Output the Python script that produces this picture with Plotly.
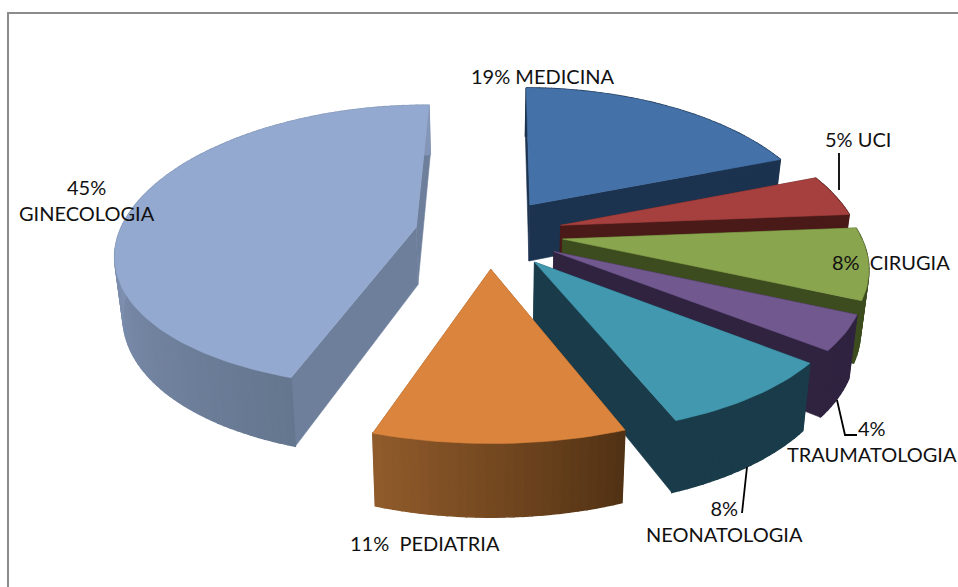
import math
import plotly.graph_objects as go

categories = ["MEDICINA", "UCI", "CIRUGIA", "TRAUMATOLOGIA", "NEONATOLOGIA", "PEDIATRIA", "GINECOLOGIA"]
values = [19, 4.6, 8, 4, 8.4, 11, 45]
top_colors = ["#4472A8", "#A5403E", "#89A54E", "#71588F", "#4198AF", "#DB843D", "#93A9CF"]
wall_end = ["#1C3350", "#4A1A18", "#3C4C1E", "#2F2340", "#1A3C4A", "#925C2C", "#8496B8"]
wall_start = ["#1C3350", "#4A1A18", "#3C4C1E", "#2F2340", "#1A3C4A", "#523214", "#65768F"]
wall_mid = ["#1C3350", "#4A1A18", "#3C4C1E", "#2F2340", "#1A3C4A", "#744820", "#8496B8"]
cut_colors = ["#1C3350", "#4A1A18", "#3C4C1E", "#2F2340", "#1A3C4A", "#8A5226", "#6E7F9C"]

CX, CY, R, RY, PX, PY, EXPL, DEPTH, CONV = 489, 233, 297, 140, 0.17, 0.135, 0.25, 58, 0.022
ROT = math.radians(0.5)
W, H = 958, 587


def project(x, y, z=0.0):
    sx = 1 / (1 - PX * y)
    sy = 1 / (1 - PY * y)
    return CX + R * x * sx * (1 - CONV * z), CY + RY * y * sy + DEPTH * z * sx


def lerp(c1, c2, t):
    a = [int(c1[i:i + 2], 16) for i in (1, 3, 5)]
    b = [int(c2[i:i + 2], 16) for i in (1, 3, 5)]
    return "rgb(%d,%d,%d)" % tuple(round(p + (q - p) * t) for p, q in zip(a, b))


fig = go.Figure()


def poly(pts, color, width=0.6):
    xs = [p[0] for p in pts] + [pts[0][0]]
    ys = [p[1] for p in pts] + [pts[0][1]]
    fig.add_trace(go.Scatter(x=xs, y=ys, mode="lines", fill="toself", fillcolor=color,
                             line=dict(color=color, width=width), hoverinfo="skip", showlegend=False))


def slice_geometry(a0, a1):
    mid = (a0 + a1) / 2
    ox, oy = EXPL * math.sin(mid), -EXPL * math.cos(mid)
    n = max(6, int((a1 - a0) * 40))
    arc = []
    for i in range(n + 1):
        t = a0 + (a1 - a0) * i / n
        arc.append((ox + math.sin(t), oy - math.cos(t)))
    return (ox, oy), arc


total = sum(values)
slices = []
cum = 0
for i, v in enumerate(values):
    a0 = cum / total * 2 * math.pi + ROT
    cum += v
    a1 = cum / total * 2 * math.pi + ROT
    slices.append((i, a0, a1))

for i, a0, a1 in slices:
    apex, arc = slice_geometry(a0, a1)
    for end in (arc[0], arc[-1]):
        poly([project(*apex), project(*end), project(*end, 1), project(*apex, 1)], cut_colors[i])
    m = len(arc) - 1
    for k in range(m):
        p, q = arc[k], arc[k + 1]
        t = k / m
        col = lerp(wall_start[i], wall_mid[i], 2 * t) if t < 0.5 else lerp(wall_mid[i], wall_end[i], 2 * t - 1)
        poly([project(*p), project(*q), project(*q, 1), project(*p, 1)], col, width=1.5)
    poly([project(*apex)] + [project(*p) for p in arc], top_colors[i])

label_texts = ["19% MEDICINA", "5% UCI", "8%  CIRUGIA", "4%<br>TRAUMATOLOGIA", "8%<br>NEONATOLOGIA", "11%  PEDIATRIA", "45%<br>GINECOLOGIA"]
label_x = [543, 858, 891, 872, 724, 425, 87]
label_y = [76, 139, 262, 441, 521, 543, 200]
for t, x, y in zip(label_texts, label_x, label_y):
    fig.add_annotation(x=x, y=y, text=t, showarrow=False, font=dict(family="Lato", size=20, color="#111111"), align="center")

for xs, ys in [([839, 839], [153, 190]), ([837, 845, 857], [400, 435, 435]), ([747, 742], [467, 513])]:
    fig.add_trace(go.Scatter(x=xs, y=ys, mode="lines", line=dict(color="#000000", width=1.8), hoverinfo="skip", showlegend=False))

fig.update_xaxes(range=[0, W], visible=False)
fig.update_yaxes(range=[H, 0], visible=False)
fig.update_layout(width=W, height=H, margin=dict(l=0, r=0, t=0, b=0), paper_bgcolor="white", plot_bgcolor="white",
                  showlegend=False,
                  shapes=[dict(type="rect", x0=8, y0=13, x1=970, y1=600, line=dict(color="#8C8C8C", width=2), layer="below")])
fig.write_html("out.html", config={"displayModeBar": False},
               post_script="document.body.style.margin='0';document.documentElement.style.overflow='hidden';")
